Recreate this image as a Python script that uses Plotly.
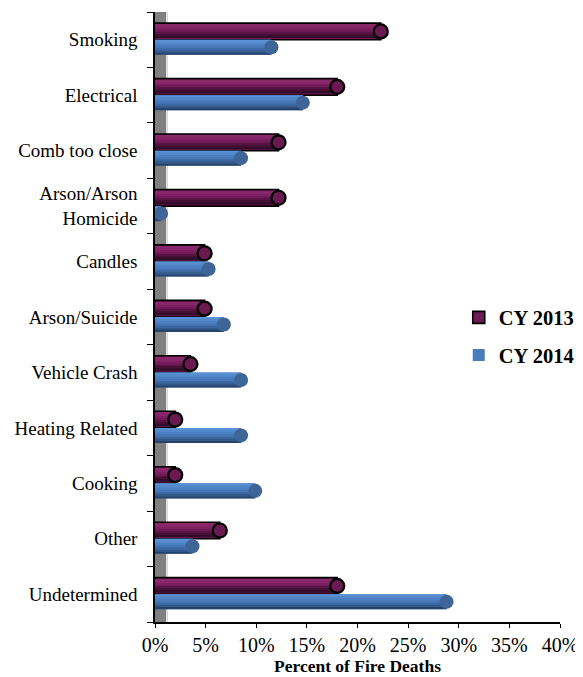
import plotly.graph_objects as go

categories = ["Smoking", "Electrical", "Comb too close", "Arson/Arson<br>Homicide", "Candles",
              "Arson/Suicide", "Vehicle Crash", "Heating Related", "Cooking", "Other", "Undetermined"]
cy2013 = [22.3, 18.0, 12.2, 12.2, 4.9, 4.9, 3.5, 2.0, 2.0, 6.4, 18.0]
cy2014 = [11.5, 14.6, 8.5, 0.6, 5.3, 6.8, 8.5, 8.5, 9.9, 3.7, 28.8]
xticks = [0, 5, 10, 15, 20, 25, 30, 35, 40]

FONT = "Liberation Serif"
pos = list(range(len(categories)))


def hex2rgb(h):
    h = h.lstrip('#')
    return [int(h[i:i + 2], 16) for i in (0, 2, 4)]


def interp(stops, t):
    n = len(stops) - 1
    i = min(int(t * n), n - 1)
    f = t * n - i
    a, b = hex2rgb(stops[i]), hex2rgb(stops[i + 1])
    c = [round(a[k] + (b[k] - a[k]) * f) for k in range(3)]
    return "rgb(%d,%d,%d)" % tuple(c)


fig = go.Figure()

series = [
    dict(name="CY 2013", vals=cy2013, base="#6e1a53", offset=-0.30, width=0.30,
         stops=["#8a2c6c", "#86236a", "#6e1a56", "#4a1039", "#2c0a22"], line=1.6,
         cap="#6a1a50", capsize=14, capline=2.2),
    dict(name="CY 2014", vals=cy2014, base="#4a7cbd", offset=0.0, width=0.27,
         stops=["#5f95d8", "#5188cc", "#4676b5", "#355d92", "#22395a"], line=0,
         cap="#3e6598", capsize=14, capline=0),
]

for s in series:
    fig.add_trace(go.Bar(
        orientation="h", y=pos, x=s["vals"], name=s["name"], legendgroup=s["name"],
        offset=s["offset"], width=s["width"],
        marker=dict(color=s["base"], line=dict(color="black", width=s["line"])),
        hoverinfo="skip"))
    n = 7
    inset = 0.03 if s["line"] else 0.0
    w_in = s["width"] - 2 * inset
    sw = w_in / n
    for k in range(n):
        fig.add_trace(go.Bar(
            orientation="h", y=pos, x=s["vals"], showlegend=False, legendgroup=s["name"],
            offset=s["offset"] + inset + k * sw, width=sw * 1.02,
            marker=dict(color=interp(s["stops"], (k + 0.5) / n), line=dict(width=0)),
            hoverinfo="skip"))

for s in series:
    centre = [p + s["offset"] + s["width"] / 2 for p in pos]
    fig.add_trace(go.Scatter(
        x=s["vals"], y=centre, mode="markers", showlegend=False, legendgroup=s["name"],
        marker=dict(symbol="circle", size=s["capsize"], color=s["cap"],
                    line=dict(color="black", width=s["capline"])),
        hoverinfo="skip"))

# grey 3-D side wall
fig.add_shape(type="rect", xref="x", yref="paper", x0=0, x1=1.1, y0=0, y1=1,
              fillcolor="#808080", line=dict(width=0), layer="below")
fig.add_shape(type="line", xref="x", yref="paper", x0=1.2, x1=1.2, y0=0, y1=1,
              line=dict(color="#c8c8c8", width=1), layer="below")

# page body has an 8px margin, so the figure is sized to fit inside the window
fig.update_layout(
    width=575, height=669,
    margin=dict(l=147, r=18, t=4, b=55),
    plot_bgcolor="white", paper_bgcolor="white",
    barmode="overlay",
    showlegend=True,
    legend=dict(x=0.75, y=0.468, xanchor="left", yanchor="middle",
                font=dict(family=FONT, size=20.5, color="black", weight="bold"),
                tracegroupgap=8, traceorder="grouped", bgcolor="rgba(0,0,0,0)",
                itemclick=False),
    font=dict(family=FONT, color="black"),
)
fig.update_xaxes(range=[0, 40], tickvals=xticks, ticktext=["%d%%" % v for v in xticks],
                 tickfont=dict(family=FONT, size=20, color="black"), automargin=False,
                 showline=True, linecolor="black", linewidth=1.5,
                 ticks="outside", ticklen=4, tickcolor="black", showgrid=False, zeroline=False,
                 title=dict(text="<b>Percent of Fire Deaths</b>",
                            font=dict(family=FONT, size=17.5, color="black"), standoff=2))
fig.update_yaxes(range=[len(categories) - 0.5, -0.5], tickvals=pos, ticktext=categories,
                 tickfont=dict(family=FONT, size=19, color="black"), automargin=False,
                 showline=True, linecolor="black", linewidth=1.5, ticks="", ticklabelstandoff=12,
                 minor=dict(tick0=0.5, dtick=1, ticks="outside", ticklen=6, tickcolor="black",
                            showgrid=False),
                 showgrid=False, zeroline=False)

fig.write_html("out.html")
